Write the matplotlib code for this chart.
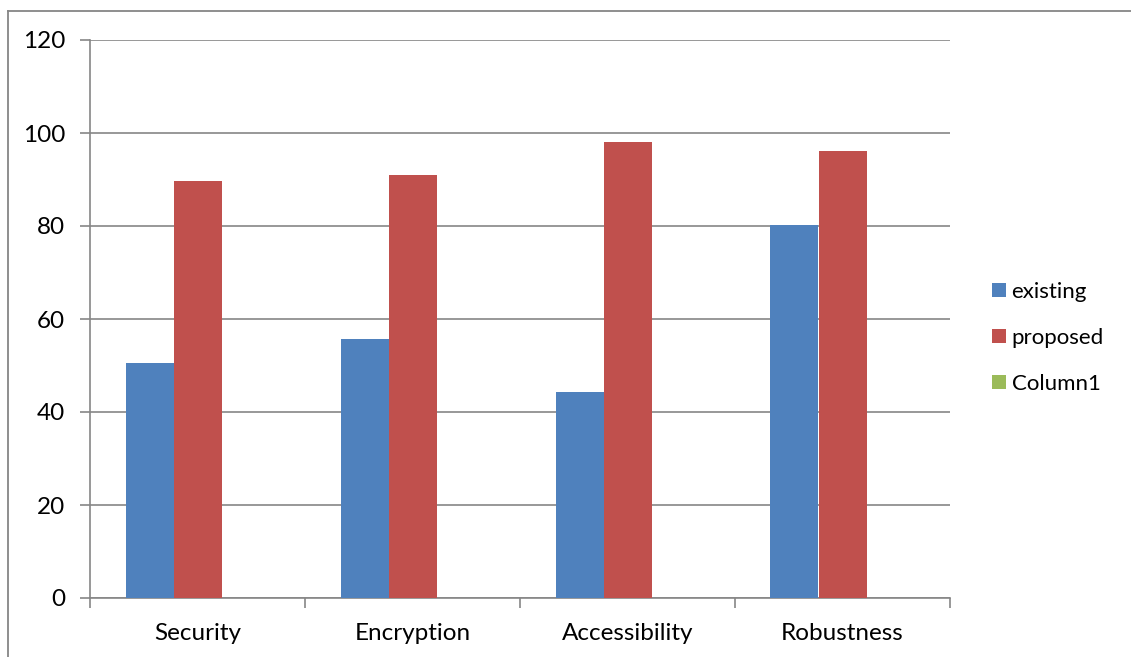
import matplotlib
matplotlib.use("Agg")
import matplotlib.pyplot as plt
from matplotlib.lines import Line2D
import numpy as np

categories = ["Security", "Encryption", "Accessibility", "Robustness"]
existing = [50.6, 55.8, 44.4, 80.2]
proposed = [89.6, 91.0, 98.1, 96.1]
column1 = [0, 0, 0, 0]
yticks = [0, 20, 40, 60, 80, 100, 120]

plt.rcParams['font.family'] = ['Lato', 'DejaVu Sans']

W, H = 1131, 657
fig = plt.figure(figsize=(W / 100, H / 100), dpi=100)
fig.patch.set_facecolor("white")

ax = fig.add_axes([90 / W, (H - 598) / H, (950 - 90) / W, (598 - 40) / H])

gray = "#868686"
bw = 48 / 215
x = np.arange(len(categories))
ax.bar(x - bw, existing, bw, color="#4F81BD", label="existing", zorder=3)
ax.bar(x, proposed, bw, color="#C0504D", label="proposed", zorder=3)
ax.bar(x + bw, column1, bw, color="#9BBB59", label="Column1", zorder=3)

ax.set_xlim(-0.5, len(categories) - 0.5)
ax.set_ylim(0, 120)
ax.set_yticks(yticks)
ax.set_yticklabels([str(v) for v in yticks])
ax.yaxis.grid(True, color=gray, linewidth=1.2, zorder=0)
ax.set_axisbelow(True)

for s in ["top", "right"]:
    ax.spines[s].set_visible(False)
for s in ["left", "bottom"]:
    ax.spines[s].set_color(gray)
    ax.spines[s].set_linewidth(1.2)

ax.set_xticks(np.arange(len(categories) + 1) - 0.5, minor=False)
ax.set_xticklabels([""] * (len(categories) + 1))
ax.set_xticks(x, minor=True)
ax.set_xticklabels(categories, minor=True)
ax.tick_params(axis="x", which="major", length=7, width=1.2, color=gray, direction="out")
ax.tick_params(axis="x", which="minor", length=0, labelsize=17.5, pad=18, labelcolor="black")
ax.tick_params(axis="y", length=7, width=1.2, color=gray, direction="out", labelsize=17.5, pad=11, labelcolor="black")

leg = ax.legend(loc="center left", bbox_to_anchor=(992 / W, (H - 338) / H), bbox_transform=fig.transFigure,
                frameon=False, fontsize=16, handlelength=0.63, handleheight=0.63,
                handletextpad=0.25, labelspacing=1.17, borderaxespad=0, borderpad=0)

fig.lines.append(Line2D([7.5 / W, 7.5 / W], [-0.1, (H - 10.5) / H], transform=fig.transFigure,
                        color=gray, linewidth=1.3))
fig.lines.append(Line2D([7.5 / W, 1.1], [(H - 10.5) / H, (H - 10.5) / H], transform=fig.transFigure,
                        color=gray, linewidth=1.3))

fig.savefig("out.png", dpi=100)
